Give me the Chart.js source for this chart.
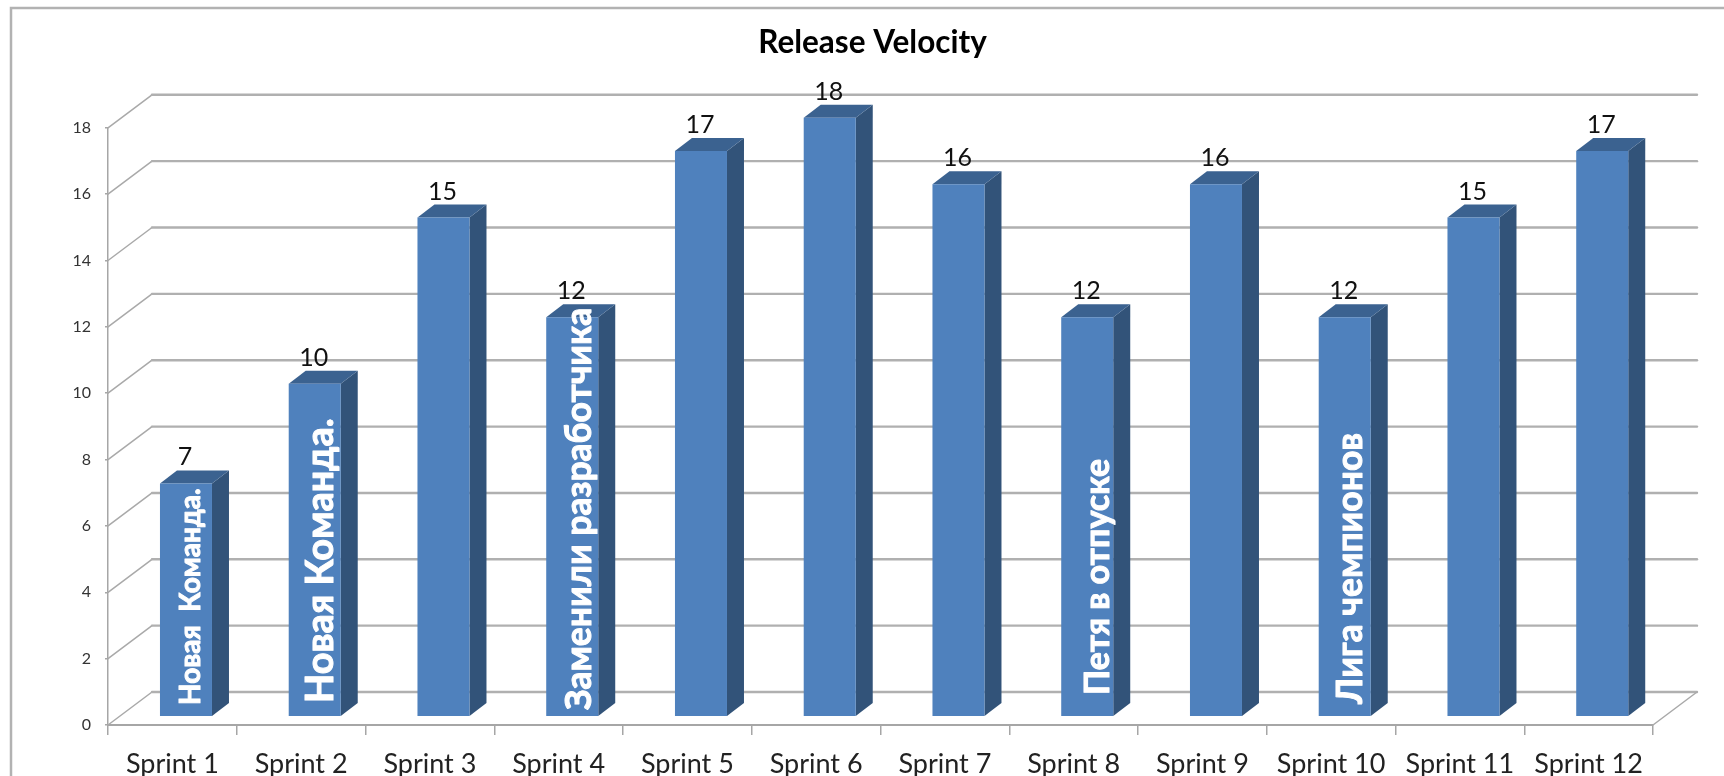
<!DOCTYPE html>
<html><head><meta charset="utf-8">
<style>html,body{margin:0;padding:0;background:#fff}canvas{display:block;filter:blur(0.6px)}</style>
<script src="https://cdn.jsdelivr.net/npm/chart.js@4/dist/chart.umd.min.js"></script>
</head><body><canvas id="c" width="1724" height="776"></canvas>
<script>
const categories = ["Sprint 1","Sprint 2","Sprint 3","Sprint 4","Sprint 5","Sprint 6","Sprint 7","Sprint 8","Sprint 9","Sprint 10","Sprint 11","Sprint 12"];
const velocity = [7,10,15,12,17,18,16,12,16,12,15,17];
const notes = ["Новая  Команда.","Новая Команда.","","Заменили разработчика","","","","Петя в отпуске","","Лига чемпионов","",""];
const yTicks = [0,2,4,6,8,10,12,14,16,18];
const chartTitle = "Release Velocity";

const FONT = 'Lato, Carlito, sans-serif';
const wall = {dx:44, dy:-33};
const barShift = 13.6;
const barDepth = {dx:17, dy:-13};
const noteFont = {0:28, 1:38, 3:35.5, 7:34, 9:35.5};
const noteBase = {0:705, 1:703, 3:710, 7:695, 9:704};
const noteNudge = {0:5, 1:6, 3:7, 7:11, 9:6};

const scene = {
  id:'scene',
  afterLayout(chart){
    chart.titleBlock.left += 46; chart.titleBlock.right += 46;
  },
  beforeDraw(chart){
    const c = chart.ctx;
    c.save();
    c.strokeStyle='#b2b2b2'; c.lineWidth=2.5;
    c.beginPath(); c.moveTo(11,776); c.lineTo(11,8); c.lineTo(1724,8); c.stroke();
    c.restore();
  },
  beforeDatasetsDraw(chart){
    const c = chart.ctx, x = chart.scales.x, y = chart.scales.y;
    c.save();
    c.lineCap='round';
    yTicks.forEach(v=>{
      const p = y.getPixelForValue(v);
      c.strokeStyle='#a9a9a9'; c.lineWidth=1.5;
      c.beginPath(); c.moveTo(x.left,p); c.lineTo(x.left+wall.dx,p+wall.dy); c.stroke();
      c.strokeStyle='#b0b0b0'; c.lineWidth=2.4;
      c.beginPath(); c.moveTo(x.left+wall.dx,p+wall.dy); c.lineTo(x.right+wall.dx,p+wall.dy); c.stroke();
    });
    const p0 = y.getPixelForValue(0);
    c.strokeStyle='#a9a9a9'; c.lineWidth=1.5;
    c.beginPath(); c.moveTo(x.right,p0); c.lineTo(x.right+wall.dx,p0+wall.dy); c.stroke();
    c.restore();
    c.save();
    c.translate(barShift,0);
    chart.getDatasetMeta(0).data.forEach(b=>{
      const l=b.x-b.width/2, r=b.x+b.width/2, t=b.y, bot=b.base, dx=barDepth.dx, dy=barDepth.dy;
      c.fillStyle='#325379';
      c.beginPath(); c.moveTo(r,t); c.lineTo(r+dx,t+dy); c.lineTo(r+dx,bot+dy); c.lineTo(r,bot); c.closePath(); c.fill();
      c.fillStyle='#3b6290';
      c.beginPath(); c.moveTo(l,t); c.lineTo(l+dx,t+dy); c.lineTo(r+dx,t+dy); c.lineTo(r,t); c.closePath(); c.fill();
    });
    c.restore();
    c.save();
    c.translate(barShift,0);
  },
  afterDatasetsDraw(chart){
    const c = chart.ctx;
    c.restore();
    c.save();
    chart.getDatasetMeta(0).data.forEach((b,i)=>{
      const cx=b.x+barShift;
      c.fillStyle='#111'; c.font='25px '+FONT; c.textAlign='center'; c.textBaseline='middle';
      c.fillText(String(velocity[i]),cx-1,b.y-26);
      if(notes[i]){
        c.save();
        c.translate(cx+noteNudge[i],noteBase[i]);
        c.rotate(-Math.PI/2);
        c.fillStyle='#fff'; c.strokeStyle='#fff'; c.lineWidth=1; c.lineJoin='round';
        c.font='bold '+noteFont[i]+'px '+FONT; c.textAlign='left'; c.textBaseline='middle';
        c.strokeText(notes[i],0,0);
        c.fillText(notes[i],0,0);
        c.restore();
      }
    });
    c.restore();
  }
};

new Chart(document.getElementById('c'),{
  type:'bar',
  data:{labels:categories,datasets:[{
    data:velocity,backgroundColor:'#4f81bd',borderWidth:0,
    categoryPercentage:1,barPercentage:0.404,yAxisID:'yBar',clip:false
  }]},
  options:{
    responsive:false,animation:false,
    layout:{padding:{right:71,left:0,top:0,bottom:0}},
    plugins:{
      legend:{display:false},tooltip:{enabled:false},
      title:{display:true,text:chartTitle,color:'#000',
        font:{family:FONT,size:31.5,weight:'bold'},padding:{top:24,bottom:66}}
    },
    scales:{
      x:{
        grid:{display:true,drawOnChartArea:false,tickLength:10,color:'#a6a6a6',lineWidth:1.5},
        border:{color:'#a6a6a6',width:2},
        ticks:{color:'#222',font:{family:FONT,size:27},padding:13,maxRotation:0,autoSkip:false},
        afterFit(s){s.height=51;}
      },
      y:{
        min:0,max:18,
        grid:{display:true,drawOnChartArea:false,tickLength:3,color:'#a6a6a6',lineWidth:1.5},
        border:{color:'#a6a6a6',width:1.5},
        ticks:{stepSize:2,color:'#333',font:{family:FONT,size:16},padding:14},
        afterFit(s){s.width=108;}
      },
      yBar:{display:false,min:-0.27,max:17.7}
    }
  },
  plugins:[scene]
});
</script></body></html>
